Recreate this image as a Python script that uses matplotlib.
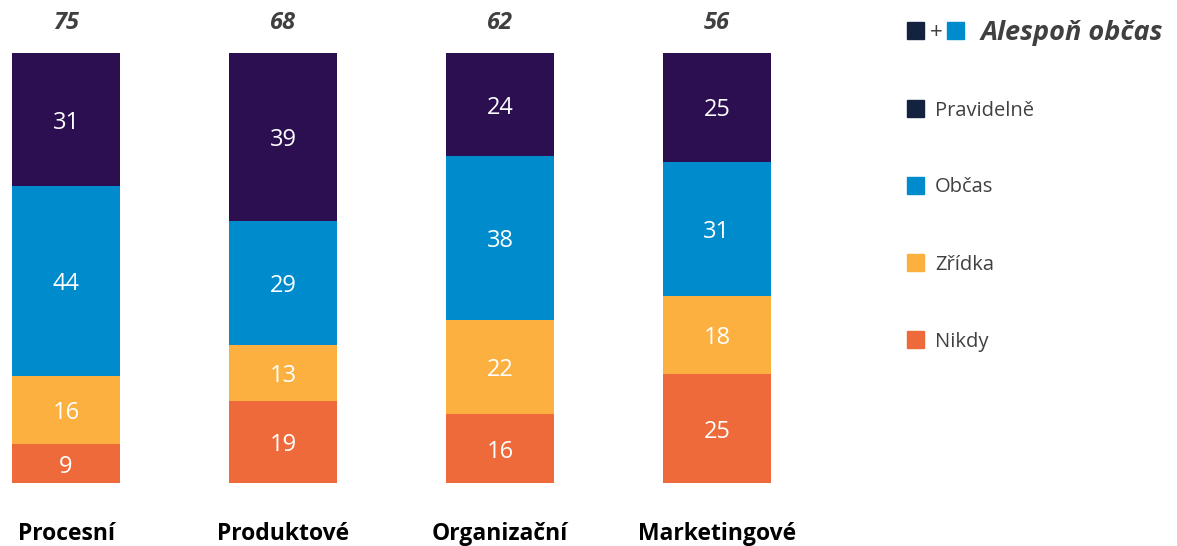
import matplotlib
matplotlib.use("Agg")
import numpy as np
import matplotlib.pyplot as plt
from matplotlib.patches import Rectangle

categories = ["Procesní", "Produktové", "Organizační", "Marketingové"]
nikdy = [9, 19, 16, 25]
zridka = [16, 13, 22, 18]
obcas = [44, 29, 38, 31]
pravidelne = [31, 39, 24, 25]
alespon = [75, 68, 62, 56]

series_names = ["Nikdy", "Zřídka", "Občas", "Pravidelně"]
bar_colors = ["#ee6a3a", "#fbb040", "#008ccc", "#2b0f50"]
legend_colors = {"Pravidelně": "#13233f", "Občas": "#008ccc",
                 "Zřídka": "#fbb040", "Nikdy": "#ee6a3a"}

plt.rcParams['font.family'] = ['Open Sans', 'DejaVu Sans']

W, H = 1177, 546
fig = plt.figure(figsize=(W / 100, H / 100), dpi=100, facecolor='white')

# axes placed in pixel terms: bars 108 px wide, 217 px apart, first centre at 66 px
step = 217.0
left_px, right_px = 0, 880
ax = fig.add_axes([left_px / W, (H - 483) / H, (right_px - left_px) / W, 430 / H])
ax.set_xlim((left_px - 66) / step, (right_px - 66) / step)
ax.set_ylim(0, 100)
ax.axis('off')

x = np.arange(len(categories))
width = 108 / step
data = np.array([nikdy, zridka, obcas, pravidelne], dtype=float)
shares = data / data.sum(axis=0) * 100  # bars are drawn as 100 % stacks
bottom = np.zeros(len(categories))
for vals, shr, col in zip(data, shares, bar_colors):
    ax.bar(x, shr, width=width, bottom=bottom, color=col, edgecolor='none')
    for xi, b, s, v in zip(x, bottom, shr, vals):
        ax.text(xi, b + s / 2, f"{int(v)}", ha='center', va='center_baseline',
                color='white', fontsize=17)
    bottom += shr

for xi, t in zip(x, alespon):
    ax.text(xi, 107.7, str(t), ha='center', va='center_baseline', fontsize=17,
            fontweight='bold', fontstyle='italic', color='#404040')

for xi, c in zip(x, categories):
    ax.text(xi, -11.2, c, ha='center', va='center_baseline', fontsize=16.5,
            fontweight='bold', color='black')


def square(px, py, color, size=17):
    fig.patches.append(Rectangle((px / W, (H - py - size / 2) / H), size / W, size / H,
                                 transform=fig.transFigure, color=color, figure=fig))


# legend
row_y = [30, 108, 185, 262, 339]
square(907, row_y[0], legend_colors["Pravidelně"])
fig.text(936 / W, 1 - row_y[0] / H, "+", ha='center', va='center_baseline',
         fontsize=16, color='#404040')
square(947, row_y[0], legend_colors["Občas"])
fig.text(981 / W, 1 - row_y[0] / H, "Alespoň občas", ha='left', va='center_baseline',
         fontsize=19.5, fontweight='bold', fontstyle='italic', color='#404040')

for name, yy in zip(["Pravidelně", "Občas", "Zřídka", "Nikdy"], row_y[1:]):
    square(907, yy, legend_colors[name])
    fig.text(935 / W, 1 - yy / H, name, ha='left', va='center_baseline',
             fontsize=14.5, color='#404040')

fig.savefig("out.png", dpi=100, facecolor='white')
